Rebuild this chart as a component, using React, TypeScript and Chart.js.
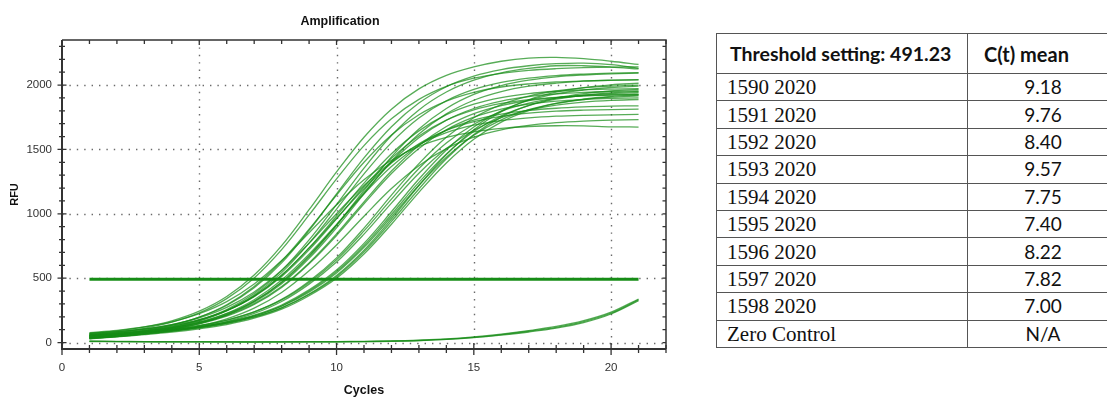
import React, { useEffect, useRef } from "react";
import { Chart, registerables } from "chart.js";
Chart.register(...registerables);

// ---------- data ----------
const CYCLES = [1, 2, 3, 4, 5, 6, 7, 8, 9, 10, 11, 12, 13, 14, 15, 16, 17, 18, 19, 20, 21];
const THRESHOLD = 491.23;
const X_TICKS = [0, 5, 10, 15, 20];
const Y_TICKS = [0, 500, 1000, 1500, 2000];

// sample 1598 2020
const S1598_A = [70, 91, 122, 169, 244, 358, 525, 753, 1032, 1325, 1595, 1813, 1970, 2075, 2141, 2185, 2210, 2215, 2205, 2185, 2160];
const S1598_B = [60, 80, 111, 158, 230, 341, 502, 722, 991, 1271, 1530, 1738, 1889, 1990, 2053, 2091, 2114, 2127, 2135, 2140, 2142];
const S1598_C = [77, 95, 121, 161, 224, 318, 455, 637, 853, 1070, 1264, 1416, 1523, 1593, 1636, 1663, 1678, 1684, 1683, 1676, 1674];
// sample 1595 2020
const S1595_A = [60, 77, 102, 139, 198, 288, 425, 619, 871, 1154, 1434, 1676, 1860, 1987, 2069, 2120, 2150, 2166, 2170, 2158, 2130];
const S1595_B = [46, 66, 93, 135, 198, 294, 436, 633, 880, 1145, 1400, 1612, 1769, 1875, 1943, 1985, 2009, 2024, 2032, 2037, 2040];
const S1595_C = [69, 84, 106, 140, 192, 273, 393, 561, 772, 1001, 1220, 1403, 1538, 1630, 1688, 1724, 1745, 1758, 1765, 1769, 1772];
// sample 1594 2020
const S1594_A = [48, 64, 86, 120, 171, 250, 370, 543, 772, 1037, 1310, 1553, 1744, 1878, 1966, 2021, 2054, 2074, 2085, 2092, 2096];
const S1594_B = [62, 76, 97, 128, 175, 249, 360, 521, 735, 983, 1238, 1466, 1644, 1770, 1852, 1903, 1934, 1952, 1963, 1969, 1973];
const S1594_C = [37, 55, 80, 114, 167, 245, 361, 524, 734, 966, 1195, 1394, 1544, 1648, 1716, 1757, 1782, 1797, 1805, 1810, 1813];
// sample 1597 2020
const S1597_A = [53, 69, 91, 124, 176, 257, 381, 559, 797, 1072, 1355, 1608, 1807, 1946, 2038, 2095, 2129, 2150, 2150, 2140, 2125];
const S1597_B = [72, 85, 104, 133, 178, 249, 357, 513, 720, 961, 1210, 1431, 1605, 1727, 1807, 1857, 1887, 1905, 1916, 1922, 1925];
const S1597_C = [41, 57, 79, 110, 156, 227, 333, 486, 687, 918, 1155, 1367, 1533, 1650, 1727, 1774, 1803, 1820, 1830, 1836, 1839];
// sample 1596 2020
const S1596_A = [55, 69, 89, 117, 159, 224, 321, 466, 667, 911, 1182, 1442, 1658, 1818, 1927, 1996, 2038, 2064, 2078, 2087, 2092];
const S1596_B = [30, 48, 70, 102, 148, 217, 321, 471, 675, 912, 1166, 1401, 1590, 1727, 1818, 1875, 1910, 1931, 1943, 1950, 1954];
const S1596_C = [44, 59, 79, 106, 146, 205, 296, 428, 612, 832, 1078, 1313, 1508, 1653, 1751, 1814, 1852, 1875, 1888, 1896, 1901];
// sample 1592 2020
const S1592_A = [39, 56, 78, 107, 150, 215, 313, 456, 654, 892, 1156, 1409, 1620, 1776, 1882, 1949, 1991, 2015, 2030, 2038, 2043];
const S1592_B = [59, 72, 90, 115, 154, 212, 302, 435, 619, 844, 1093, 1332, 1531, 1678, 1778, 1841, 1880, 1903, 1917, 1925, 1930];
const S1592_C = [33, 47, 66, 92, 129, 184, 267, 389, 557, 758, 981, 1196, 1374, 1506, 1595, 1652, 1687, 1708, 1720, 1727, 1731];
// sample 1590 2020
const S1590_A = [41, 56, 74, 98, 129, 173, 238, 335, 476, 658, 889, 1145, 1390, 1595, 1746, 1848, 1914, 1954, 1978, 1991, 2000];
const S1590_B = [51, 65, 82, 104, 133, 175, 238, 331, 467, 643, 867, 1114, 1352, 1550, 1696, 1796, 1859, 1898, 1921, 1934, 1942];
const S1590_C = [31, 47, 66, 89, 120, 163, 226, 319, 454, 625, 842, 1083, 1315, 1507, 1649, 1746, 1807, 1845, 1868, 1881, 1888];
// sample 1593 2020
const S1593_A = [44, 59, 76, 96, 123, 160, 213, 292, 409, 563, 770, 1016, 1270, 1496, 1674, 1799, 1881, 1932, 1962, 1981, 1991];
const S1593_B = [34, 50, 68, 89, 116, 153, 207, 285, 401, 552, 754, 995, 1244, 1465, 1639, 1761, 1841, 1891, 1921, 1939, 1950];
const S1593_C = [54, 67, 81, 99, 124, 157, 207, 282, 392, 541, 740, 977, 1222, 1440, 1610, 1730, 1809, 1858, 1888, 1906, 1916];
// sample 1591 2020
const S1591_A = [39, 53, 70, 89, 114, 148, 197, 270, 377, 521, 718, 960, 1220, 1460, 1653, 1793, 1886, 1945, 1980, 2002, 2014];
const S1591_B = [49, 62, 77, 96, 119, 151, 199, 269, 373, 512, 705, 941, 1193, 1427, 1615, 1751, 1842, 1899, 1934, 1954, 1966];
const S1591_C = [29, 44, 61, 81, 107, 140, 189, 259, 364, 500, 688, 919, 1167, 1395, 1579, 1712, 1801, 1857, 1891, 1911, 1923];
// zero control
const ZERO_A = [10, 8, 7, 6, 6, 5, 5, 5, 6, 6, 8, 11, 16, 25, 40, 62, 88, 118, 162, 228, 332];
const ZERO_B = [8, 7, 6, 5, 5, 5, 4, 5, 5, 6, 7, 10, 15, 24, 38, 58, 82, 112, 155, 222, 325];
const ZERO_C = [12, 10, 8, 7, 7, 6, 6, 6, 7, 8, 10, 13, 19, 28, 44, 66, 93, 125, 170, 236, 338];

const CURVES = [
  S1598_A, S1598_B, S1598_C, S1595_A, S1595_B, S1595_C, S1594_A, S1594_B, S1594_C,
  S1597_A, S1597_B, S1597_C, S1596_A, S1596_B, S1596_C, S1592_A, S1592_B, S1592_C,
  S1590_A, S1590_B, S1590_C, S1593_A, S1593_B, S1593_C, S1591_A, S1591_B, S1591_C,
  ZERO_A, ZERO_B, ZERO_C,
];

const TABLE_HEADER = ["Threshold setting: 491.23", "C(t) mean"];
const SAMPLE_NAMES = ["1590 2020", "1591 2020", "1592 2020", "1593 2020", "1594 2020", "1595 2020", "1596 2020", "1597 2020", "1598 2020", "Zero Control"];
const CT_MEANS = ["9.18", "9.76", "8.40", "9.57", "7.75", "7.40", "8.22", "7.82", "7.00", "N/A"];

// ---------- styling ----------
const NARROW = "'Liberation Sans Narrow', 'Arial Narrow', 'Liberation Sans', Arial, sans-serif";
const CURVE_COLOR = "rgba(22, 140, 22, 0.72)";
const THRESH_COLOR = "rgb(22, 140, 22)";

const framePlugin = {
  id: "qpcrFrame",
  beforeDatasetsDraw(chart: any) {
    const { ctx, chartArea: a, scales } = chart;
    const x = scales.x, y = scales.y;
    ctx.save();
    ctx.strokeStyle = "#6a6a6a";
    ctx.lineWidth = 1.4;
    ctx.setLineDash([1.4, 6]);
    X_TICKS.forEach((v) => {
      if (v === 0) return;
      const px = Math.round(x.getPixelForValue(v)) + 0.5;
      ctx.beginPath(); ctx.moveTo(px, a.top); ctx.lineTo(px, a.bottom); ctx.stroke();
    });
    Y_TICKS.forEach((v) => {
      const py = Math.round(y.getPixelForValue(v)) + 0.5;
      ctx.beginPath(); ctx.moveTo(a.left, py); ctx.lineTo(a.right, py); ctx.stroke();
    });
    ctx.restore();
  },
  afterDatasetsDraw(chart: any) {
    const { ctx, chartArea: a, scales } = chart;
    const x = scales.x, y = scales.y;
    ctx.save();
    ctx.setLineDash([]);
    ctx.strokeStyle = "#333";
    // frame
    ctx.lineWidth = 1.5;
    ctx.beginPath(); ctx.moveTo(a.left, a.top); ctx.lineTo(a.right, a.top); ctx.lineTo(a.right, a.bottom); ctx.stroke();
    ctx.lineWidth = 2;
    ctx.beginPath(); ctx.moveTo(a.left, a.top); ctx.lineTo(a.left, a.bottom); ctx.lineTo(a.right, a.bottom); ctx.stroke();
    // x ticks
    ctx.lineWidth = 1.3;
    for (let v = 0; v <= 22; v++) {
      const px = x.getPixelForValue(v);
      const major = v % 5 === 0;
      ctx.beginPath();
      ctx.moveTo(px, a.bottom - (major ? 6 : 4));
      ctx.lineTo(px, a.bottom + (major ? 6 : 4));
      ctx.moveTo(px, a.top);
      ctx.lineTo(px, a.top + (major ? 5 : 4));
      ctx.stroke();
    }
    // y ticks
    for (let v = 0; v <= 2300; v += 100) {
      const py = y.getPixelForValue(v);
      const major = v % 500 === 0;
      ctx.beginPath();
      ctx.moveTo(a.left - (major ? 4.5 : 3), py);
      ctx.lineTo(a.left + (major ? 4.5 : 3), py);
      ctx.moveTo(a.right, py);
      ctx.lineTo(a.right - 3.5, py);
      ctx.stroke();
    }
    // titles
    ctx.fillStyle = "#111";
    ctx.textAlign = "center";
    ctx.textBaseline = "middle";
    ctx.font = `bold 12.5px ${NARROW}`;
    ctx.fillText("Amplification", 340, 22);
    ctx.fillText("Cycles", (a.left + a.right) / 2, 391);
    ctx.save();
    ctx.translate(15, (a.top + a.bottom) / 2);
    ctx.rotate(-Math.PI / 2);
    ctx.font = `bold 11px ${NARROW}`;
    ctx.fillText("RFU", 0, 0);
    ctx.restore();
    ctx.restore();
  },
};

function AmplificationChart() {
  const ref = useRef<HTMLCanvasElement | null>(null);
  useEffect(() => {
    if (!ref.current) return;
    const datasets: any[] = CURVES.map((arr) => ({
      data: CYCLES.map((c, i) => ({ x: c, y: arr[i] })),
      borderColor: CURVE_COLOR,
      borderWidth: 1.3,
      pointRadius: 0,
      tension: 0.35,
      fill: false,
    }));
    datasets.push({
      data: [{ x: CYCLES[0], y: THRESHOLD }, { x: CYCLES[CYCLES.length - 1], y: THRESHOLD }],
      borderColor: THRESH_COLOR,
      borderWidth: 3,
      pointRadius: 0,
      fill: false,
    });
    const tickFont = { family: NARROW, size: 11.5 };
    const chart = new Chart(ref.current, {
      type: "line",
      data: { datasets },
      options: {
        animation: false,
        responsive: true,
        maintainAspectRatio: false,
        layout: { padding: { left: 0, right: 14, top: 40, bottom: 0 } },
        plugins: { legend: { display: false }, tooltip: { enabled: false }, title: { display: false } },
        scales: {
          x: {
            type: "linear",
            min: 0,
            max: 22,
            grid: { display: false, drawTicks: false },
            border: { display: false },
            afterBuildTicks: (s: any) => { s.ticks = X_TICKS.map((v) => ({ value: v })); },
            afterFit: (s: any) => { s.height = 49; },
            ticks: { padding: 12, color: "#333", font: tickFont, maxRotation: 0, autoSkip: false, callback: (v: any) => String(v) },
          },
          y: {
            type: "linear",
            min: -50,
            max: 2350,
            grid: { display: false, drawTicks: false },
            border: { display: false },
            afterBuildTicks: (s: any) => { s.ticks = Y_TICKS.map((v) => ({ value: v })); },
            afterFit: (s: any) => { s.width = 62; },
            ticks: { padding: 10, color: "#333", font: tickFont, autoSkip: false, callback: (v: any) => String(v) },
          },
        },
      },
      plugins: [framePlugin],
    });
    return () => chart.destroy();
  }, []);
  return (
    <div style={{ position: "absolute", left: 0, top: 0, width: 680, height: 398 }}>
      <canvas ref={ref} />
    </div>
  );
}

const border = "1.5px solid #555";

function CtTable() {
  const sans = "Lato, 'Open Sans', sans-serif";
  const serif = "'Liberation Serif', 'Times New Roman', serif";
  return (
    <table
      style={{
        position: "absolute",
        left: 716,
        top: 33,
        width: 402,
        borderCollapse: "collapse",
        tableLayout: "fixed",
        color: "#111",
      }}
    >
      <colgroup>
        <col style={{ width: 251 }} />
        <col style={{ width: 151 }} />
      </colgroup>
      <thead>
        <tr style={{ height: 40 }}>
          <th style={{ border, textAlign: "left", paddingLeft: 13, fontFamily: sans, fontWeight: 700, fontSize: 19.5, whiteSpace: "nowrap" }}>
            {TABLE_HEADER[0]}
          </th>
          <th style={{ border, textAlign: "left", paddingLeft: 16, fontFamily: sans, fontWeight: 700, fontSize: 20, whiteSpace: "nowrap" }}>
            {TABLE_HEADER[1]}
          </th>
        </tr>
      </thead>
      <tbody>
        {SAMPLE_NAMES.map((name, i) => (
          <tr key={name} style={{ height: 27.4 }}>
            <td style={{ border, padding: "0 0 0 10px", fontFamily: serif, fontSize: 21, lineHeight: "24px", whiteSpace: "nowrap" }}>{name}</td>
            <td style={{ border, padding: 0, textAlign: "center", fontFamily: sans, fontSize: 19, lineHeight: "24px" }}>{CT_MEANS[i]}</td>
          </tr>
        ))}
      </tbody>
    </table>
  );
}

export default function App() {
  return (
    <div style={{ position: "absolute", left: 0, top: 0, width: 1107, height: 398, overflow: "hidden", background: "#fff" }}>
      <AmplificationChart />
      <CtTable />
    </div>
  );
}
